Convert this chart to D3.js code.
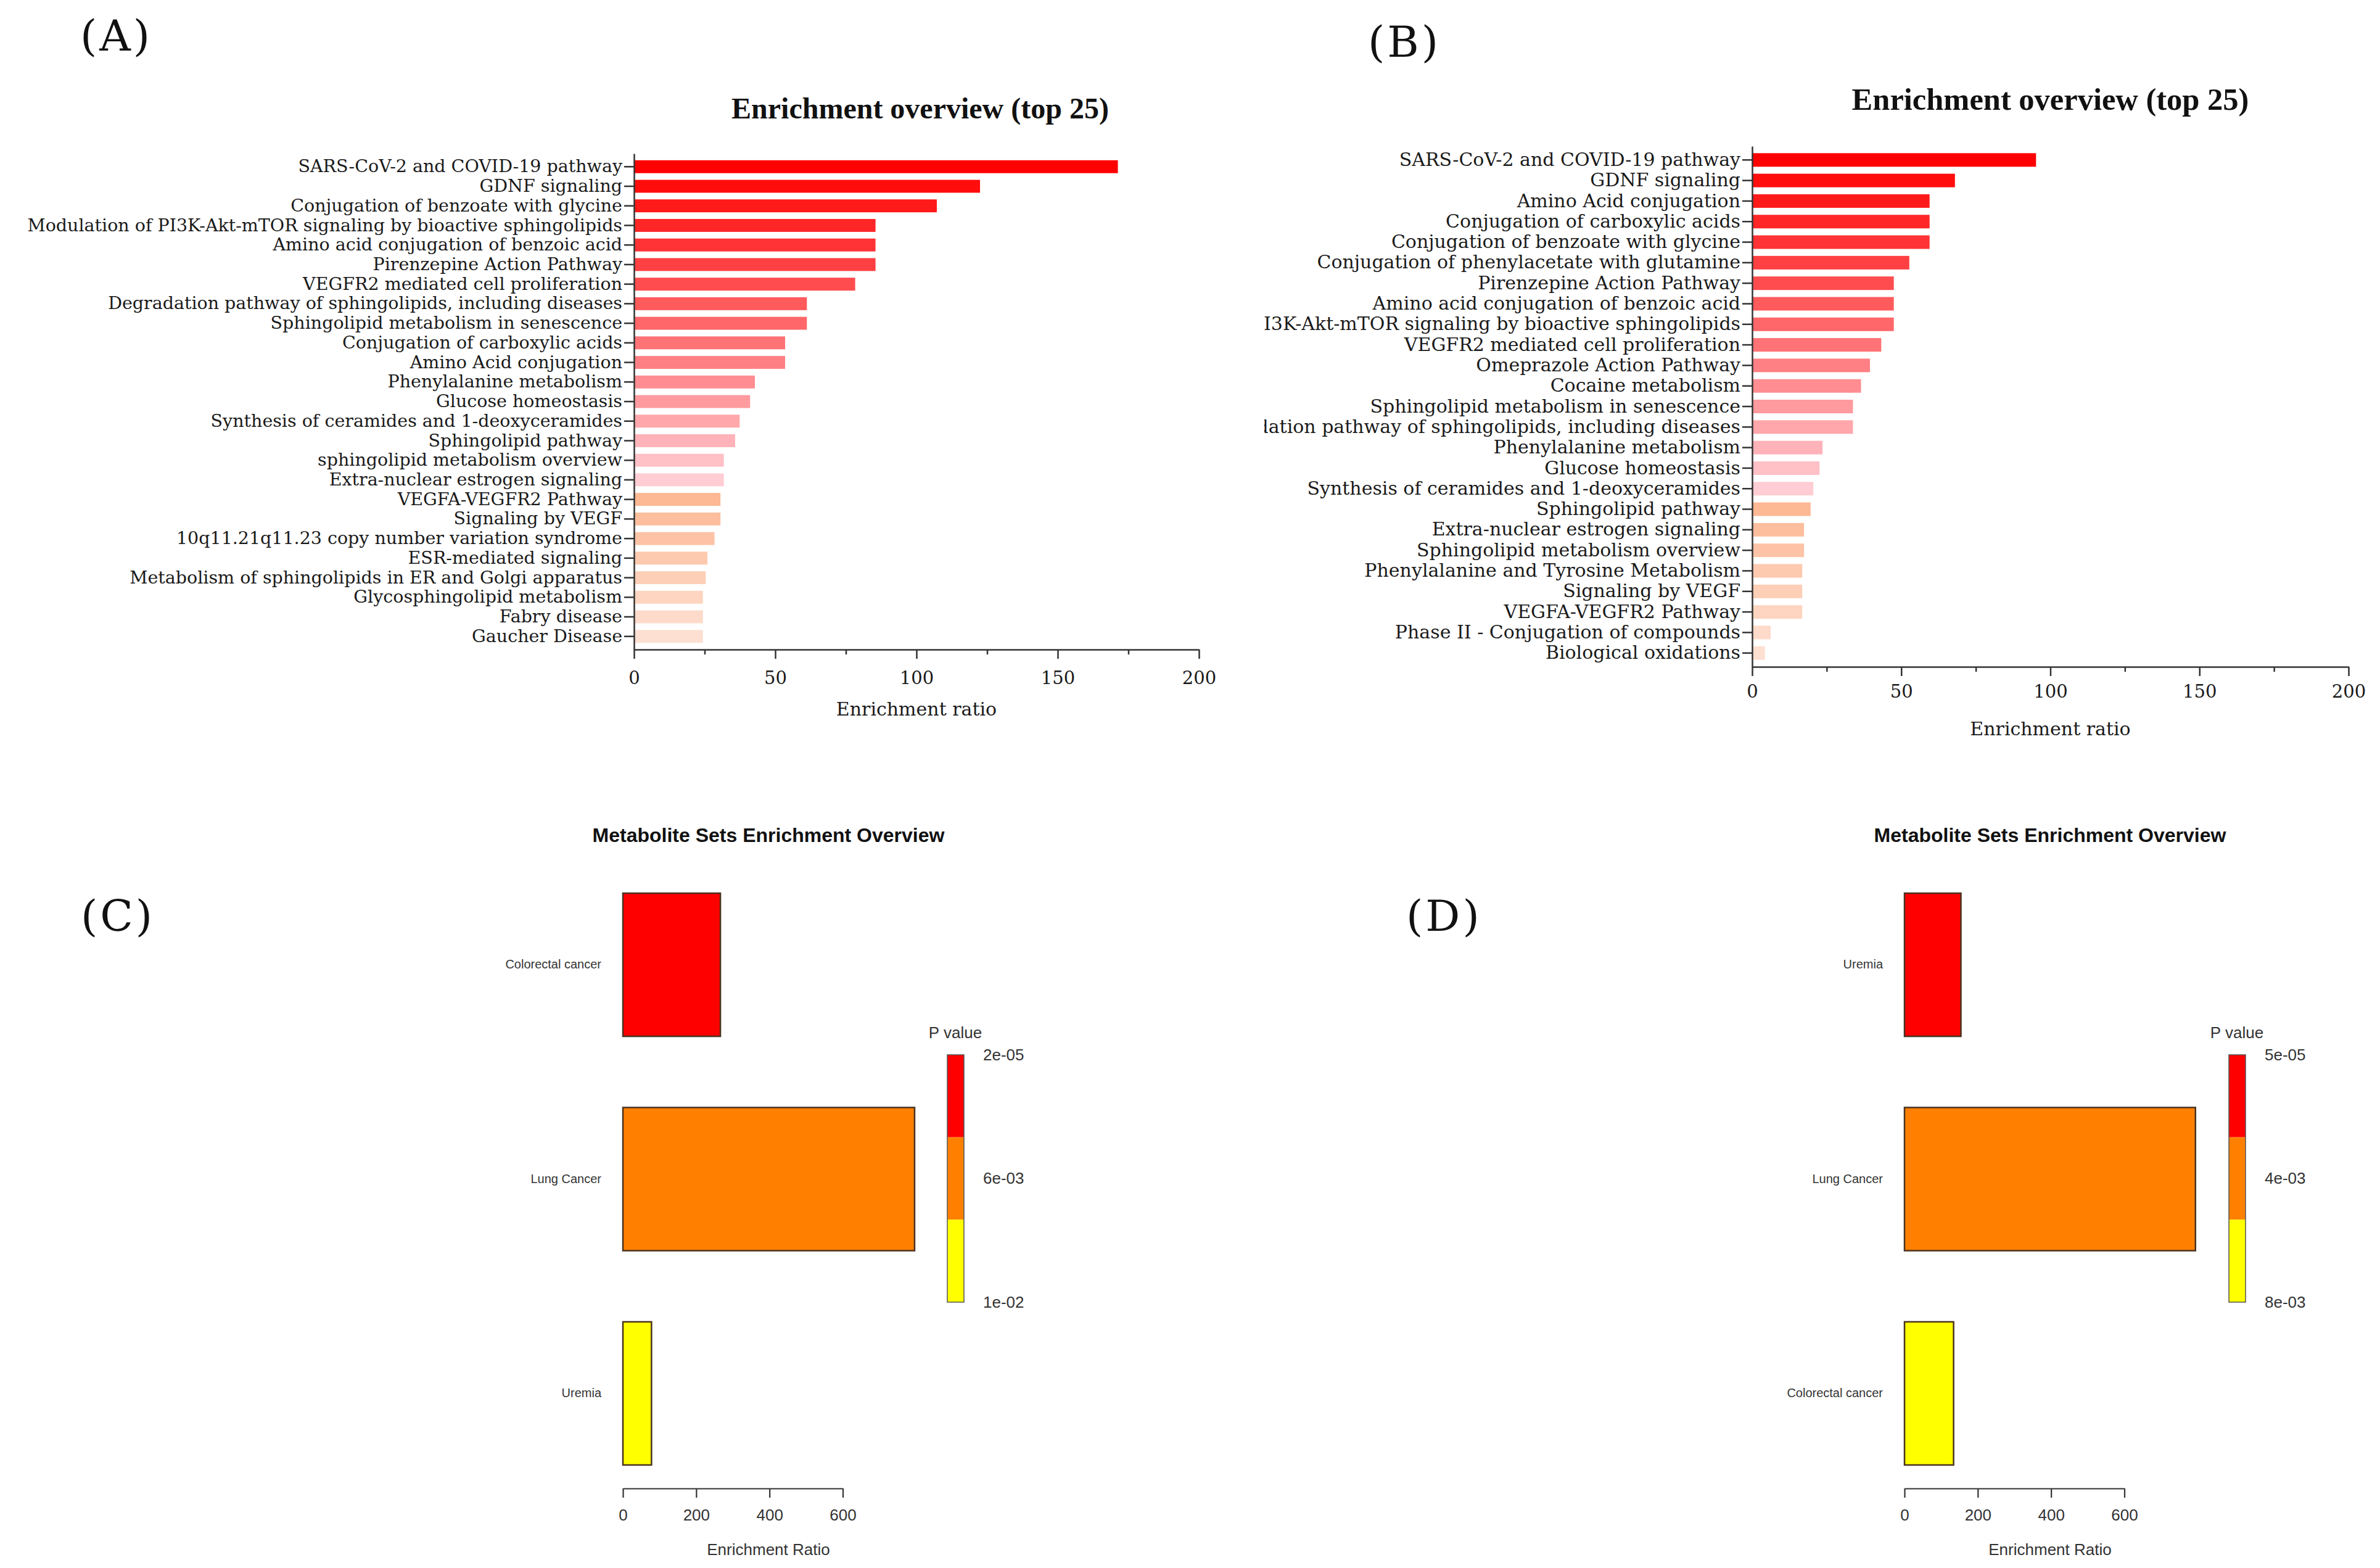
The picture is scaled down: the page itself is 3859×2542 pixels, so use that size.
<!DOCTYPE html>
<html>
<head>
<meta charset="utf-8">
<script src="https://cdn.jsdelivr.net/npm/d3@7"></script>
<style>
  html, body { margin: 0; padding: 0; background: #fff; }
  svg { display: block; }
</style>
</head>
<body>
<div id="chart"></div>
<script>
// ---- data ----
const pathwaysA = [
  "SARS-CoV-2 and COVID-19 pathway", "GDNF signaling", "Conjugation of benzoate with glycine",
  "Modulation of PI3K-Akt-mTOR signaling by bioactive sphingolipids", "Amino acid conjugation of benzoic acid",
  "Pirenzepine Action Pathway", "VEGFR2 mediated cell proliferation",
  "Degradation pathway of sphingolipids, including diseases", "Sphingolipid metabolism in senescence",
  "Conjugation of carboxylic acids", "Amino Acid conjugation", "Phenylalanine metabolism",
  "Glucose homeostasis", "Synthesis of ceramides and 1-deoxyceramides", "Sphingolipid pathway",
  "sphingolipid metabolism overview", "Extra-nuclear estrogen signaling", "VEGFA-VEGFR2 Pathway",
  "Signaling by VEGF", "10q11.21q11.23 copy number variation syndrome", "ESR-mediated signaling",
  "Metabolism of sphingolipids in ER and Golgi apparatus", "Glycosphingolipid metabolism",
  "Fabry disease", "Gaucher Disease"
];
const ratiosA = [171.3, 122.5, 107.2, 85.5, 85.5, 85.5, 78.3, 61.2, 61.2, 53.5, 53.5, 42.8, 41.1,
  37.4, 35.8, 31.8, 31.8, 30.6, 30.6, 28.5, 26.0, 25.4, 24.4, 24.4, 24.4];

const pathwaysB = [
  "SARS-CoV-2 and COVID-19 pathway", "GDNF signaling", "Amino Acid conjugation",
  "Conjugation of carboxylic acids", "Conjugation of benzoate with glycine",
  "Conjugation of phenylacetate with glutamine", "Pirenzepine Action Pathway",
  "Amino acid conjugation of benzoic acid", "Modulation of PI3K-Akt-mTOR signaling by bioactive sphingolipids",
  "VEGFR2 mediated cell proliferation", "Omeprazole Action Pathway", "Cocaine metabolism",
  "Sphingolipid metabolism in senescence", "Degradation pathway of sphingolipids, including diseases",
  "Phenylalanine metabolism", "Glucose homeostasis", "Synthesis of ceramides and 1-deoxyceramides",
  "Sphingolipid pathway", "Extra-nuclear estrogen signaling", "Sphingolipid metabolism overview",
  "Phenylalanine and Tyrosine Metabolism", "Signaling by VEGF", "VEGFA-VEGFR2 Pathway",
  "Phase II - Conjugation of compounds", "Biological oxidations"
];
const ratiosB = [95.2, 68.0, 59.5, 59.5, 59.5, 52.7, 47.5, 47.5, 47.5, 43.3, 39.5, 36.5, 33.8, 33.8,
  23.6, 22.6, 20.5, 19.6, 17.4, 17.4, 16.8, 16.8, 16.8, 6.2, 4.3];

const setsC = ["Colorectal cancer", "Lung Cancer", "Uremia"];
const ratiosC = [266, 796, 78];
const pValuesC = [2e-05, 5e-03, 1e-02];
const legendC = ["2e-05", "6e-03", "1e-02"];

const setsD = ["Uremia", "Lung Cancer", "Colorectal cancer"];
const ratiosD = [154, 794, 134];
const pValuesD = [5e-05, 4e-03, 8e-03];
const legendD = ["5e-05", "4e-03", "8e-03"];

const xTicksTop = [0, 50, 100, 150, 200];
const xMinorTop = [25, 75, 125, 175];
const xTicksBottom = [0, 200, 400, 600];

// ---- drawing ----
const W = 3859, H = 2542;
const svg = d3.select("#chart").append("svg")
  .attr("width", W).attr("height", H)
  .attr("viewBox", [0, 0, W, H]);
svg.append("rect").attr("width", W).attr("height", H).attr("fill", "#fff");

const serif = "'DejaVu Serif', serif";
const sans = "'Liberation Sans', Arial, sans-serif";
const axisCol = "#333";

// red -> pale pink for the first 17 bars, then a peach run
function barColor(i) {
  if (i < 17) return d3.interpolateRgb("#ff0000", "#ffcdd3")(i / 16);
  return d3.interpolateRgb("#fdb894", "#fde0d2")((i - 17) / 7);
}

function panelLetter(txt, x, y) {
  svg.append("text").attr("x", x).attr("y", y)
    .attr("font-family", serif).attr("font-size", 70)
    .attr("letter-spacing", 4).attr("fill", "#111")
    .text(txt);
}

function topChart(o) {
  const g = svg.append("g");
  const x = d3.scaleLinear().domain([0, 200]).range([o.x0, o.x1]);
  const y = d3.scaleBand().domain(o.labels).range([o.y0, o.y1]).padding(0.34);

  g.selectAll("rect.bar").data(o.values).join("rect")
    .attr("class", "bar")
    .attr("x", x(0))
    .attr("y", (d, i) => y(o.labels[i]))
    .attr("width", d => x(d) - x(0))
    .attr("height", y.bandwidth())
    .attr("fill", (d, i) => barColor(i));

  // y axis (labels)
  const yHolder = g.append("g");
  if (o.clipX) {
    const id = "clip" + o.key;
    svg.append("clipPath").attr("id", id)
      .append("rect").attr("x", o.clipX).attr("y", 0).attr("width", W).attr("height", H);
    yHolder.attr("clip-path", `url(#${id})`);
  }
  const ya = yHolder.append("g")
    .attr("transform", `translate(${o.x0},0)`)
    .call(d3.axisLeft(y).tickSize(16).tickSizeOuter(0).tickPadding(3));
  ya.selectAll("text").attr("font-family", serif).attr("font-size", o.labelSize).attr("fill", "#1a1a1a");

  // x axis with minor ticks
  const xa = g.append("g")
    .attr("transform", `translate(0,${o.y1})`)
    .call(d3.axisBottom(x).tickValues(xTicksTop).tickSize(15).tickSizeOuter(0).tickPadding(o.tickPad));
  xa.selectAll("text").attr("font-family", serif).attr("font-size", 29).attr("fill", "#1a1a1a");
  g.append("g")
    .attr("transform", `translate(0,${o.y1})`)
    .call(d3.axisBottom(x).tickValues(xMinorTop).tickSize(8).tickFormat(""))
    .call(a => a.select(".domain").remove());

  g.selectAll(".domain, .tick line").attr("stroke", axisCol).attr("stroke-width", 2.5);

  const cx = (o.x0 + o.x1) / 2;
  g.append("text").attr("x", cx + o.titleDx).attr("y", o.titleY)
    .attr("text-anchor", "middle")
    .attr("font-family", "'Liberation Serif', serif").attr("font-weight", "bold")
    .attr("font-size", o.titleSize).attr("fill", "#111")
    .text("Enrichment overview (top 25)");
  g.append("text").attr("x", cx).attr("y", o.xLabelY)
    .attr("text-anchor", "middle")
    .attr("font-family", serif).attr("font-size", 30).attr("fill", "#1a1a1a")
    .text("Enrichment ratio");
}

function bottomChart(o) {
  const g = svg.append("g");
  const x = d3.scaleLinear().domain([0, 600]).range([o.x0, o.x0 + 356.5]);
  const y = d3.scaleBand().domain(o.sets).range([1448, 2375]).paddingInner(0.332).paddingOuter(0);
  const pCol = d3.scaleQuantize().domain(o.pDomain).range(["#ff0000", "#ff8000", "#ffff00"]);

  g.selectAll("rect.bar").data(o.ratios).join("rect")
    .attr("x", x(0))
    .attr("y", (d, i) => y(o.sets[i]))
    .attr("width", d => x(d) - x(0))
    .attr("height", y.bandwidth())
    .attr("fill", (d, i) => pCol(o.pValues[i]))
    .attr("stroke", "#4a3320").attr("stroke-width", 2.5);

  const ya = g.append("g").attr("transform", `translate(${o.x0},0)`)
    .call(d3.axisLeft(y).tickSize(0).tickPadding(35));
  ya.select(".domain").remove();
  ya.selectAll("text").attr("font-family", sans).attr("font-size", 20).attr("fill", "#333");

  const xa = g.append("g").attr("transform", "translate(0,2413)")
    .call(d3.axisBottom(x).tickValues(xTicksBottom).tickSize(15).tickSizeOuter(0).tickPadding(19));
  xa.selectAll(".domain, .tick line").attr("stroke", "#333").attr("stroke-width", 2.2);
  xa.selectAll("text").attr("font-family", sans).attr("font-size", 26).attr("fill", "#333");

  g.append("text").attr("x", o.x0 + 236).attr("y", 1365)
    .attr("text-anchor", "middle").attr("font-family", sans).attr("font-weight", "bold")
    .attr("font-size", 32).attr("fill", "#111")
    .text("Metabolite Sets Enrichment Overview");
  g.append("text").attr("x", o.x0 + 236).attr("y", 2521)
    .attr("text-anchor", "middle").attr("font-family", sans)
    .attr("font-size", 26).attr("fill", "#333")
    .text("Enrichment Ratio");

  // p value legend
  const lx = o.x0 + 526;
  const ly = d3.scaleLinear().domain([0, 2]).range([1710, 2111]);
  const segs = ["#ff0000", "#ff8000", "#ffff00"];
  g.selectAll("rect.seg").data(segs).join("rect")
    .attr("class", "seg")
    .attr("x", lx).attr("width", 27)
    .attr("y", (d, i) => ly(0) + i * (ly(2) - ly(0)) / 3)
    .attr("height", (ly(2) - ly(0)) / 3)
    .attr("fill", d => d);
  g.append("rect").attr("x", lx).attr("y", ly(0)).attr("width", 27).attr("height", ly(2) - ly(0))
    .attr("fill", "none").attr("stroke", "#555").attr("stroke-width", 1.5);
  const la = g.append("g").attr("transform", `translate(${lx + 27},0)`)
    .call(d3.axisRight(ly).tickValues([0, 1, 2]).tickFormat((d, i) => o.legend[i]).tickSize(0).tickPadding(31));
  la.select(".domain").remove();
  la.selectAll("text").attr("font-family", sans).attr("font-size", 26).attr("fill", "#333");
  g.append("text").attr("x", lx + 13).attr("y", 1683)
    .attr("text-anchor", "middle").attr("font-family", sans)
    .attr("font-size", 26).attr("fill", "#333").text("P value");
}

topChart({ key: "A", labels: pathwaysA, values: ratiosA, x0: 1028, x1: 1944, y0: 249, y1: 1053,
  labelSize: 28.5, titleY: 192, titleSize: 48, titleDx: 6, xLabelY: 1160, tickPad: 20 });
topChart({ key: "B", labels: pathwaysB, values: ratiosB, x0: 2841, x1: 3808, y0: 237, y1: 1081,
  labelSize: 30, titleY: 178, titleSize: 50.5, titleDx: 0, xLabelY: 1192, tickPad: 14, clipX: 2050 });

bottomChart({ sets: setsC, ratios: ratiosC, pValues: pValuesC, pDomain: [2e-05, 1e-02], legend: legendC, x0: 1010 });
bottomChart({ sets: setsD, ratios: ratiosD, pValues: pValuesD, pDomain: [5e-05, 8e-03], legend: legendD, x0: 3088 });

panelLetter("(A)", 130, 82);
panelLetter("(B)", 2218, 92);
panelLetter("(C)", 131, 1509);
panelLetter("(D)", 2280, 1509);
</script>
</body>
</html>
